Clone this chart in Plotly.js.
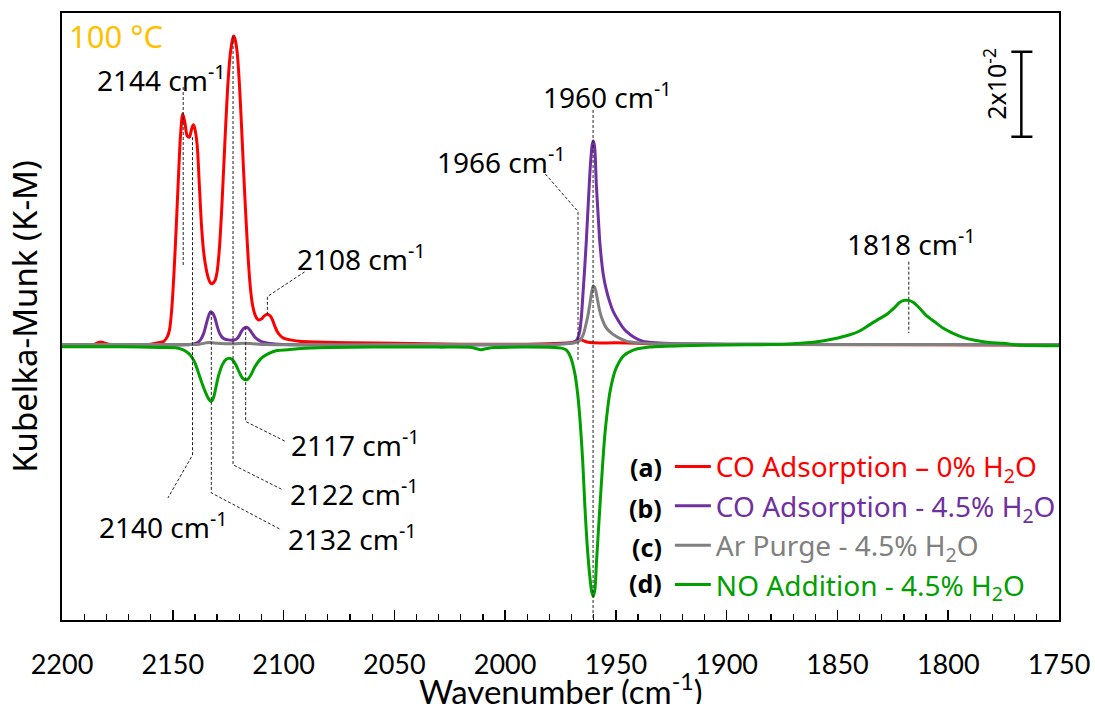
<!DOCTYPE html>
<html><head><meta charset="utf-8">
<script src="https://cdn.plot.ly/plotly-3.0.1.min.js"></script>
<style>html,body{margin:0;padding:0;background:#fff}#chart{width:1095px;height:704px}</style>
</head><body><div id="chart"></div>
<script>
// Wavenumber (cm-1) / Kubelka-Munk values in units of 1e-2 (scale bar = 2x10^-2)
const seriesNames = [
  'CO Adsorption \u2013 0% H<sub>2</sub>O',
  'CO Adsorption - 4.5% H<sub>2</sub>O',
  'Ar Purge - 4.5% H<sub>2</sub>O',
  'NO Addition - 4.5% H<sub>2</sub>O'
];
const seriesTags = ['(a)', '(b)', '(c)', '(d)'];
const xTitle = 'Wavenumber (cm<sup>-1</sup>)';
const yTitle = 'Kubelka-Munk (K-M)';

const coAdsDry = [[2200,0],[2192,0.01],[2186,0.01],[2184,0.05],[2182.5,0.07],[2181,0.05],[2178,0.01],[2170,0.01],[2160,0.02],[2156,0.06],[2154,0.09],[2152.5,0.19],[2151.5,0.35],[2150.5,0.82],[2149.5,1.65],[2148.5,2.71],[2147.5,3.88],[2146.5,4.94],[2145.5,5.44],[2144.5,5.22],[2143.5,4.92],[2142.5,4.89],[2141.5,5.08],[2140.7,5.18],[2140,5.08],[2139,4.71],[2138,3.76],[2137,2.78],[2136,2.16],[2135,1.81],[2134,1.58],[2133,1.46],[2132.2,1.44],[2131,1.51],[2130,1.72],[2129,2.24],[2128,3.11],[2127,4.19],[2126,5.29],[2125,6.24],[2124,6.87],[2123,7.20],[2122.5,7.27],[2122,7.22],[2121,6.92],[2120,6.21],[2119,5.18],[2118,4.05],[2117,3.01],[2116,2.07],[2115,1.36],[2114,0.94],[2113,0.73],[2112,0.62],[2111.3,0.59],[2110,0.61],[2109,0.67],[2108,0.71],[2107,0.72],[2106,0.68],[2105,0.59],[2104,0.45],[2103,0.33],[2102,0.25],[2100,0.16],[2097,0.12],[2093,0.09],[2085,0.07],[2070,0.05],[2050,0.04],[2020,0.02],[1990,0.02],[1975,0.04],[1970,0.06],[1968,0.09],[1966.7,0.13],[1965,0.11],[1963,0.07],[1960,0.05],[1950,0.05],[1940,0.04],[1930,0.02],[1915,0.01],[1900,0.01],[1750,0]];

const coAdsWet = [[2200,0],[2150,0],[2142,0.01],[2139,0.05],[2137.5,0.12],[2136,0.28],[2135,0.47],[2134,0.66],[2133,0.78],[2132,0.75],[2131,0.64],[2130,0.45],[2129,0.29],[2128,0.20],[2127,0.15],[2125,0.12],[2123,0.11],[2122,0.12],[2121,0.15],[2120,0.22],[2119,0.32],[2118,0.39],[2117,0.42],[2116,0.40],[2115,0.34],[2114,0.26],[2113,0.19],[2112,0.14],[2110,0.08],[2107,0.04],[2100,0.01],[2050,0],[1990,0.01],[1978,0.02],[1972,0.04],[1969.5,0.05],[1968,0.09],[1967,0.19],[1966.3,0.33],[1965.5,0.71],[1964.8,1.25],[1964,1.88],[1963.4,2.40],[1962.5,3.29],[1961.5,4.24],[1960.7,4.71],[1960.2,4.80],[1959.6,4.66],[1958.8,3.75],[1958,3.05],[1957.3,2.45],[1956.5,2.00],[1955.7,1.66],[1954.5,1.34],[1953,1.05],[1951.3,0.80],[1949,0.58],[1947,0.42],[1945.3,0.32],[1942,0.19],[1938,0.09],[1932,0.05],[1920,0.03],[1900,0.02],[1850,0.01],[1800,0.01],[1750,0]];

const arPurge = [[2200,0.01],[2145,0.01],[2138,0.02],[2135,0.05],[2133,0.06],[2130,0.04],[2126,0.03],[2122,0.03],[2118,0.04],[2114,0.03],[2108,0.01],[2050,0.01],[1975,0.02],[1970,0.04],[1967.9,0.06],[1966.3,0.11],[1964.8,0.23],[1963.8,0.42],[1962.6,0.70],[1961.6,1.02],[1960.8,1.28],[1960.2,1.39],[1959.5,1.35],[1958.5,1.12],[1957.3,0.80],[1956,0.58],[1954.3,0.40],[1951.3,0.25],[1948,0.15],[1945.3,0.09],[1940,0.05],[1930,0.03],[1900,0.02],[1850,0.01],[1750,0.01]];

const noAdd = [[2200,-0.04],[2180,-0.04],[2165,-0.05],[2155,-0.06],[2148,-0.07],[2145,-0.12],[2143,-0.19],[2141.5,-0.28],[2140,-0.42],[2138.5,-0.64],[2137,-0.87],[2135.5,-1.08],[2134,-1.25],[2133,-1.32],[2132.4,-1.32],[2131.5,-1.22],[2130.5,-0.99],[2129.5,-0.75],[2128.7,-0.61],[2127.5,-0.45],[2126,-0.34],[2124.5,-0.31],[2123,-0.35],[2121.5,-0.47],[2120,-0.64],[2118.5,-0.78],[2117.3,-0.82],[2116,-0.80],[2114.5,-0.68],[2113,-0.52],[2111.5,-0.40],[2110,-0.31],[2107,-0.21],[2103,-0.13],[2098,-0.11],[2092,-0.08],[2080,-0.06],[2060,-0.05],[2030,-0.05],[2015,-0.06],[2011,-0.11],[2009,-0.09],[2005,-0.06],[1990,-0.05],[1978,-0.06],[1974,-0.08],[1972.3,-0.12],[1970.5,-0.28],[1968.5,-0.68],[1967.3,-1.13],[1966.3,-1.69],[1965,-2.71],[1964,-3.79],[1962.8,-4.82],[1961.7,-5.48],[1960.9,-5.81],[1960.2,-5.91],[1959.5,-5.76],[1958.7,-5.06],[1957.2,-3.79],[1956,-2.82],[1955,-2.12],[1953.8,-1.53],[1952.7,-1.11],[1950.4,-0.61],[1948.5,-0.40],[1946.7,-0.26],[1942.2,-0.12],[1938,-0.07],[1934.7,-0.05],[1920,-0.02],[1900,0],[1880,0.01],[1870,0.03],[1860,0.07],[1852,0.14],[1844.4,0.24],[1840,0.33],[1835.4,0.48],[1831,0.62],[1828,0.71],[1826.4,0.78],[1824,0.89],[1822,1.00],[1820,1.05],[1818,1.05],[1816,1.01],[1813,0.87],[1810.2,0.71],[1806,0.54],[1802.4,0.40],[1798,0.28],[1793.4,0.18],[1788,0.11],[1781.5,0.06],[1775,0.04],[1769,0],[1750,-0.02]];

const colors = ['#FF0000', '#7030A0', '#808080', '#00A000'];
const allSeries = [coAdsDry, coAdsWet, arPurge, noAdd];

// Peak labels: [text wavenumber, label x, label y]
const peakLabels = [
  ['2144', 2155.0, 6.26], ['2140', 2154.3, -4.24], ['2132', 2069.0, -4.54],
  ['2122', 2067.9, -3.46], ['2117', 2067.4, -2.31], ['2108', 2064.9, 2.07],
  ['1966', 2001.7, 4.33], ['1960', 1953.7, 5.88], ['1818', 1816.5, 2.42]
];
// Leader lines (wavenumber, value) polylines
const leaders = [
  [[2145.3, 6.07], [2145.3, 1.88]],
  [[2141.1, 4.89], [2141.1, -2.59], [2152.2, -3.60]],
  [[2132.6, 0.78], [2132.6, -3.48], [2101.0, -4.35]],
  [[2122.8, 7.27], [2122.8, -2.82], [2100.3, -3.41]],
  [[2117.1, 0.42], [2117.1, -1.80], [2098.7, -2.28]],
  [[2107.3, 0.71], [2107.3, 1.14], [2090.5, 1.72]],
  [[1967.1, -0.35], [1967.1, 3.14], [1982.1, 4.04]],
  [[1960.3, 5.53], [1960.3, -6.47]],
  [[1817.8, 1.96], [1817.8, 0.28]]
];
const scaleBar = {x: 1767.0, y0: 4.9, y1: 6.9, cap0: 1771.5, cap1: 1762.0};

const traces = allSeries.map((s, i) => ({
  type: 'scatter', mode: 'lines',
  x: s.map(p => p[0]), y: s.map(p => p[1]),
  line: {color: colors[i], width: 3, shape: 'spline', smoothing: 0.8},
  name: '<span style="color:' + colors[i] + '">' + seriesNames[i] + '</span>',
  legendgroup: 'g' + i
}));

const shapes = leaders.map(pts => ({
  type: 'path', xref: 'x', yref: 'y',
  path: pts.map((p, k) => (k ? 'L' : 'M') + p[0] + ',' + p[1]).join(' '),
  line: {color: '#222', width: 1, dash: '3px,2px'}
}));
shapes.push({type: 'line', xref: 'x', yref: 'y', x0: scaleBar.x, x1: scaleBar.x, y0: scaleBar.y0, y1: scaleBar.y1, line: {color: '#000', width: 2.5}});
shapes.push({type: 'line', xref: 'x', yref: 'y', x0: scaleBar.cap0, x1: scaleBar.cap1, y0: scaleBar.y0, y1: scaleBar.y0, line: {color: '#000', width: 2.5}});
shapes.push({type: 'line', xref: 'x', yref: 'y', x0: scaleBar.cap0, x1: scaleBar.cap1, y0: scaleBar.y1, y1: scaleBar.y1, line: {color: '#000', width: 2.5}});

const labelFont = {family: 'Noto Sans, sans-serif', size: 28, color: '#000'};
const annotations = peakLabels.map(l => ({
  x: l[1], y: l[2], xref: 'x', yref: 'y', showarrow: false,
  text: l[0] + ' cm<sup>-1</sup>', font: labelFont, xanchor: 'center', yanchor: 'middle'
}));
annotations.push({x: 0.005, y: 0.962, xref: 'paper', yref: 'paper', showarrow: false, xanchor: 'left', yanchor: 'middle',
  text: '100 \u00B0C', font: {family: 'Noto Sans, sans-serif', size: 31, color: '#FFC000'}});
annotations.push({x: 1779.0, y: 6.14, xref: 'x', yref: 'y', showarrow: false, textangle: -90,
  text: '2x10<sup>-2</sup>', font: {family: 'Noto Sans, sans-serif', size: 25, color: '#000'}});
const tagY = [0.2526, 0.1840, 0.1208, 0.0605];
seriesTags.forEach((t, i) => annotations.push({
  x: 0.6037, y: tagY[i], xref: 'paper', yref: 'paper', showarrow: false, xanchor: 'right', yanchor: 'middle',
  text: '<b>' + t + '</b>', font: {family: 'Noto Sans, sans-serif', size: 25, color: '#000'}
}));
// x-axis title placed as a paper annotation for exact position
annotations.push({x: 0.5, y: -0.114, xref: 'paper', yref: 'paper', showarrow: false, xanchor: 'center', yanchor: 'middle',
  text: xTitle, font: {family: 'Lato, sans-serif', size: 33, color: '#000'}});

const layout = {
  width: 1095, height: 704,
  margin: {l: 62, r: 36, t: 13, b: 84},
  paper_bgcolor: '#fff', plot_bgcolor: '#fff',
  showlegend: true,
  legend: {x: 0.6097, y: 0.2937, xanchor: 'left', yanchor: 'top', bgcolor: 'rgba(0,0,0,0)',
    font: {family: 'Noto Sans, sans-serif', size: 28, color: '#000'}, tracegroupgap: 0, itemwidth: 36},
  xaxis: {
    range: [2200, 1750], dtick: 50, tick0: 1750, ticks: 'inside', ticklen: 10, tickwidth: 1.5, tickcolor: '#000',
    minor: {dtick: 10, ticks: 'inside', ticklen: 6, tickwidth: 1.2, tickcolor: '#000', showgrid: false},
    showgrid: false, zeroline: false, showline: true, mirror: true, linecolor: '#000', linewidth: 2,
    tickfont: {family: 'Lato, sans-serif', size: 27, color: '#000'}, ticklabelstandoff: 20
  },
  yaxis: {
    range: [-6.471, 7.812], showticklabels: false, ticks: '', showgrid: false, zeroline: false,
    showline: true, mirror: true, linecolor: '#000', linewidth: 2,
    title: {text: yTitle, font: {family: 'Noto Sans, sans-serif', size: 33, color: '#000'}, standoff: 12}
  },
  shapes: shapes, annotations: annotations
};

Plotly.newPlot('chart', traces, layout, {displayModeBar: false, staticPlot: true});
</script></body></html>
